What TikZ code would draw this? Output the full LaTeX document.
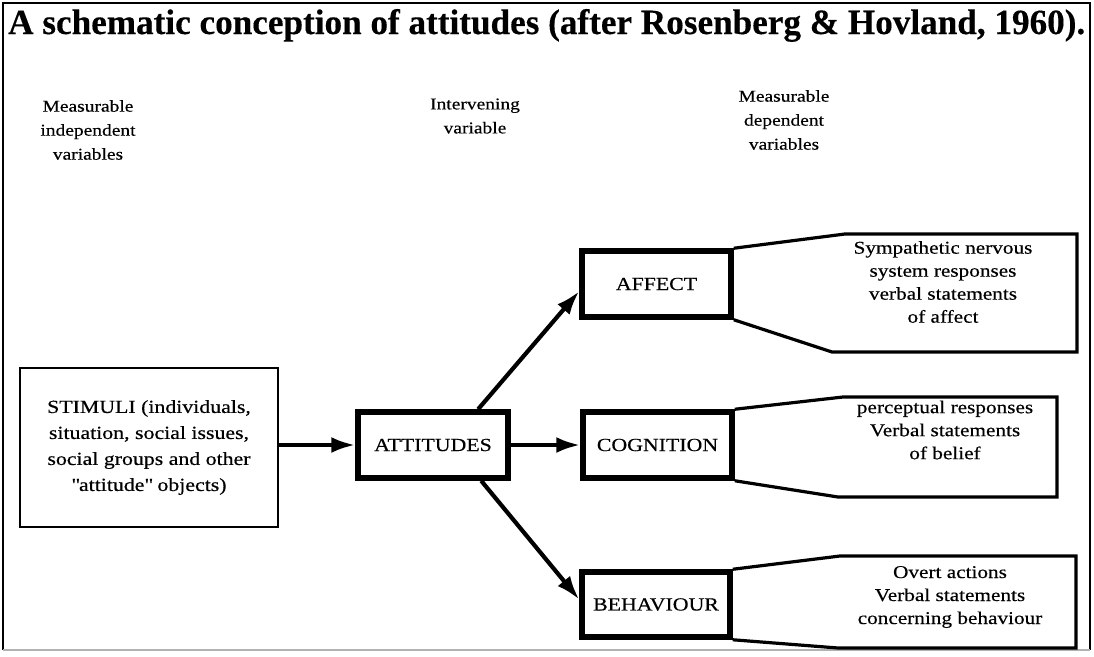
\documentclass[tikz,border=0pt]{standalone}
\usepackage{fontspec}
\setmainfont{Liberation Serif}[FakeStretch=1.18,FakeBold=0.4]
\newfontfamily\titlefont{Liberation Serif}[FakeBold=0.3]
\usetikzlibrary{arrows.meta,calc}

\begin{document}
\begin{tikzpicture}[x=1pt,y=-1pt,
  heavybox/.style={draw, line width=5.5pt, inner sep=0pt, font=\fontsize{18.5}{26}\selectfont},
  lightbox/.style={draw, line width=2.6pt, inner sep=0pt, align=center, font=\fontsize{18.5}{26}\selectfont},
  funnel/.style={line width=3.2pt, line join=miter},
  header/.style={align=center, inner sep=0pt, font=\fontsize{16.5}{24}\selectfont},
  note/.style={align=center, inner sep=0pt, font=\fontsize{18}{23}\selectfont},
  arr/.style={line width=4.2pt, -{Latex[length=24pt,width=16pt]}},
]
\useasboundingbox (0,0) rectangle (1094,656);

% outer frame
\draw[line width=2.2pt] (3,650) -- (3,3) -- (1090,3) -- (1090,650);
\draw[line width=2pt, gray!60] (3,650) -- (1090,650);

% title
\node[anchor=base west, inner sep=0pt] (title) at (8,34)
  {\resizebox{1077pt}{25pt}{\titlefont\fontsize{30}{36}\selectfont\bfseries A schematic conception of attitudes (after Rosenberg \& Hovland, 1960).}};

% column headings
\node[header] (h1) at (88,130) {Measurable\\independent\\variables};
\node[header] (h2) at (475,116) {Intervening\\variable};
\node[header] (h3) at (784,120) {Measurable\\dependent\\variables};

% boxes
\node[lightbox, minimum width=258pt, minimum height=159pt] (stim) at (149,447.5)
  {STIMULI (individuals,\\situation, social issues,\\social groups and other\\\textquotedbl attitude\textquotedbl{} objects)};
\node[heavybox, minimum width=150pt, minimum height=66pt] (att) at (433,445) {ATTITUDES};
\node[heavybox, minimum width=149pt, minimum height=66pt] (aff) at (656.5,284) {AFFECT};
\node[heavybox, minimum width=149pt, minimum height=66pt] (cog) at (657.5,445) {COGNITION};
\node[heavybox, minimum width=148pt, minimum height=65pt] (beh) at (656,604.5) {BEHAVIOUR};

% funnel outlines of the measured responses
\coordinate (a1) at (845,234);  \coordinate (a2) at (1077,234);
\coordinate (a3) at (1077,352); \coordinate (a4) at (832,352);
\draw[funnel] (aff.north east) -- (a1) -- (a2) -- (a3) -- (a4) -- (aff.south east);

\coordinate (c1) at (843,397);  \coordinate (c2) at (1057,397);
\coordinate (c3) at (1057,497); \coordinate (c4) at (838,497);
\draw[funnel] (cog.north east) -- (c1) -- (c2) -- (c3) -- (c4) -- (cog.south east);

\coordinate (b1) at (840,556);  \coordinate (b2) at (1076,556);
\coordinate (b3) at (1076,648); \coordinate (b4) at (838,648);
\draw[funnel] (beh.north east) -- (b1) -- (b2) -- (b3) -- (b4) -- (beh.south east);

% response texts
\node[note] (afft) at (943,282) {Sympathetic nervous\\system responses\\verbal statements\\of affect};
\node[note] (cogt) at (945,430) {perceptual responses\\Verbal statements\\of belief};
\node[note] (beht) at (950,597) {Overt actions\\Verbal statements\\concerning behaviour};

% connectors
\coordinate (attup) at ($(att.north west)!0.79!(att.north east)$);
\coordinate (attdn) at ($(att.south west)!0.81!(att.south east)$);
\draw[arr] (stim.east |- att.west) -- (att.west);
\draw[arr] (att.east) -- (cog.west);
\draw[arr] (attup) -- ($(aff.north west)!0.6!(aff.south west)$);
\draw[arr] (attdn) -- ($(beh.north west)!0.43!(beh.south west)$);
\end{tikzpicture}
\end{document}
